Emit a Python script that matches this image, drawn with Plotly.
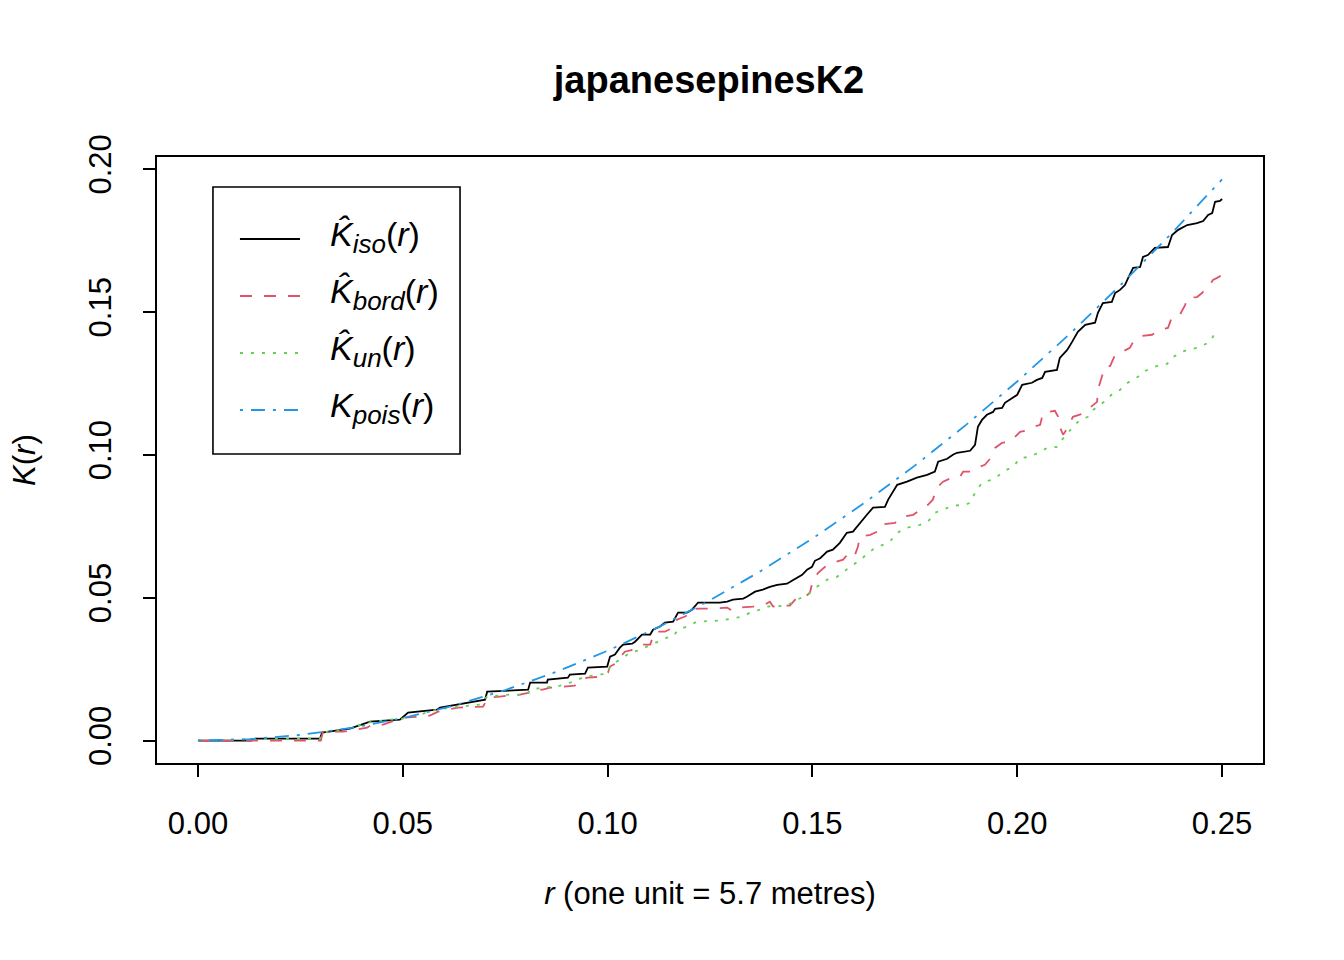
import plotly.graph_objects as go

# ---- data ----
r_iso = [0, 0.0130, 0.0140, 0.0298, 0.0303, 0.0371, 0.0420, 0.0493, 0.0513, 0.0583,
         0.0591, 0.0635, 0.0669, 0.0701, 0.0706, 0.0806, 0.0811, 0.0852, 0.0854, 0.0903,
         0.0908, 0.0945, 0.0952, 0.0999, 0.1006, 0.1018, 0.1030, 0.1038, 0.1060, 0.1067,
         0.1084, 0.1104, 0.1111, 0.1128, 0.1140, 0.1160, 0.1172, 0.1194, 0.1206, 0.1218,
         0.1221, 0.1274, 0.1292, 0.1306, 0.1331, 0.1340, 0.1360, 0.1379, 0.1396, 0.1414,
         0.1438, 0.1450, 0.1462, 0.1475, 0.1487, 0.1499, 0.1506, 0.1519, 0.1536, 0.1550,
         0.1567, 0.1584, 0.1599, 0.1616, 0.1633, 0.1648, 0.1677, 0.1685, 0.1707, 0.1731,
         0.1755, 0.1780, 0.1799, 0.1807, 0.1829, 0.1843, 0.1853, 0.1885, 0.1897, 0.1904,
         0.1914, 0.1926, 0.1941, 0.1946, 0.1963, 0.1970, 0.1990, 0.2000, 0.2012, 0.2036,
         0.2048, 0.2061, 0.2068, 0.2097, 0.2104, 0.2122, 0.2134, 0.2148, 0.2166, 0.2190,
         0.2197, 0.2209, 0.2231, 0.2239, 0.2251, 0.2263, 0.2271, 0.2283, 0.2300, 0.2307,
         0.2319, 0.2336, 0.2368, 0.2378, 0.2393, 0.2415, 0.2439, 0.2454, 0.2466, 0.2476,
         0.2483, 0.2495, 0.2500]
k_iso = [0, 0, 0.0007, 0.0007, 0.0028, 0.0042, 0.0066, 0.0073, 0.0098, 0.0108,
         0.0115, 0.0126, 0.0136, 0.0143, 0.0171, 0.0178, 0.0203, 0.0203, 0.0213, 0.0220,
         0.0231, 0.0234, 0.0255, 0.0259, 0.0294, 0.0301, 0.0325, 0.0336, 0.0339, 0.0346,
         0.0371, 0.0371, 0.0388, 0.0399, 0.0413, 0.0416, 0.0448, 0.0448, 0.0458, 0.0476,
         0.0483, 0.0483, 0.0486, 0.0493, 0.0497, 0.0503, 0.0521, 0.0528, 0.0538, 0.0545,
         0.0549, 0.0559, 0.0570, 0.0580, 0.0598, 0.0608, 0.0629, 0.0638, 0.0661, 0.0668,
         0.0692, 0.0727, 0.0731, 0.0762, 0.0790, 0.0815, 0.0818, 0.0843, 0.0895, 0.0906,
         0.0920, 0.0930, 0.0941, 0.0976, 0.0986, 0.1000, 0.1007, 0.1014, 0.1035, 0.1098,
         0.1122, 0.1140, 0.1150, 0.1161, 0.1164, 0.1182, 0.1199, 0.1210, 0.1245, 0.1252,
         0.1262, 0.1269, 0.1290, 0.1297, 0.1339, 0.1367, 0.1395, 0.1430, 0.1455, 0.1462,
         0.1497, 0.1531, 0.1535, 0.1566, 0.1577, 0.1594, 0.1619, 0.1654, 0.1657, 0.1692,
         0.1699, 0.1724, 0.1727, 0.1769, 0.1787, 0.1804, 0.1811, 0.1818, 0.1839, 0.1846,
         0.1885, 0.1888, 0.1895]

r_bord = [0, 0.0300, 0.0305, 0.0354, 0.0413, 0.0425, 0.0452, 0.0500, 0.0542, 0.0559,
          0.0571, 0.0586, 0.0608, 0.0635, 0.0696, 0.0708, 0.0737, 0.0786, 0.0811, 0.0818,
          0.0842, 0.0859, 0.0920, 0.0925, 0.0950, 0.0989, 0.1001, 0.1006, 0.1023, 0.1030,
          0.1042, 0.1062, 0.1086, 0.1104, 0.1111, 0.1116, 0.1140, 0.1165, 0.1169, 0.1189,
          0.1201, 0.1213, 0.1218, 0.1257, 0.1292, 0.1304, 0.1316, 0.1355, 0.1384, 0.1396,
          0.1404, 0.1421, 0.1445, 0.1458, 0.1477, 0.1494, 0.1501, 0.1514, 0.1531, 0.1550,
          0.1575, 0.1592, 0.1604, 0.1611, 0.1616, 0.1641, 0.1658, 0.1665, 0.1702, 0.1721,
          0.1746, 0.1770, 0.1782, 0.1794, 0.1804, 0.1819, 0.1841, 0.1860, 0.1868, 0.1885,
          0.1902, 0.1921, 0.1938, 0.1946, 0.1963, 0.1982, 0.2000, 0.2007, 0.2019, 0.2039,
          0.2056, 0.2063, 0.2092, 0.2100, 0.2104, 0.2112, 0.2122, 0.2129, 0.2136, 0.2158,
          0.2178, 0.2195, 0.2197, 0.2207, 0.2214, 0.2227, 0.2239, 0.2251, 0.2275, 0.2283,
          0.2305, 0.2329, 0.2349, 0.2368, 0.2378, 0.2397, 0.2410, 0.2415, 0.2439, 0.2451,
          0.2458, 0.2466, 0.2478, 0.2488, 0.2500]
k_bord = [0, 0, 0.0031, 0.0031, 0.0045, 0.0056, 0.0056, 0.0080, 0.0084, 0.0084,
          0.0091, 0.0101, 0.0108, 0.0115, 0.0119, 0.0150, 0.0154, 0.0161, 0.0168, 0.0178,
          0.0178, 0.0185, 0.0192, 0.0203, 0.0220, 0.0224, 0.0238, 0.0259, 0.0273, 0.0290,
          0.0311, 0.0318, 0.0336, 0.0336, 0.0364, 0.0381, 0.0381, 0.0399, 0.0423, 0.0434,
          0.0444, 0.0448, 0.0462, 0.0462, 0.0465, 0.0455, 0.0465, 0.0469, 0.0476, 0.0486,
          0.0469, 0.0472, 0.0472, 0.0493, 0.0497, 0.0517, 0.0560, 0.0587, 0.0608, 0.0622,
          0.0633, 0.0661, 0.0650, 0.0678, 0.0713, 0.0720, 0.0731, 0.0755, 0.0762, 0.0783,
          0.0790, 0.0815, 0.0825, 0.0843, 0.0885, 0.0906, 0.0920, 0.0923, 0.0941, 0.0941,
          0.0955, 0.0965, 0.0993, 0.1024, 0.1042, 0.1045, 0.1070, 0.1080, 0.1084, 0.1098,
          0.1105, 0.1147, 0.1154, 0.1133, 0.1098, 0.1070, 0.1091, 0.1112, 0.1133, 0.1143,
          0.1164, 0.1185, 0.1227, 0.1273, 0.1308, 0.1311, 0.1350, 0.1357, 0.1374, 0.1395,
          0.1416, 0.1420, 0.1437, 0.1444, 0.1483, 0.1490, 0.1524, 0.1549, 0.1552, 0.1566,
          0.1577, 0.1584, 0.1612, 0.1619, 0.1629]

r_un = [0, 0.0140, 0.0298, 0.0303, 0.0354, 0.0403, 0.0425, 0.0469, 0.0500, 0.0542,
        0.0583, 0.0615, 0.0657, 0.0688, 0.0706, 0.0762, 0.0803, 0.0811, 0.0842, 0.0884,
        0.0916, 0.0945, 0.0981, 0.0999, 0.1006, 0.1018, 0.1038, 0.1055, 0.1074, 0.1096,
        0.1121, 0.1145, 0.1160, 0.1172, 0.1194, 0.1208, 0.1218, 0.1274, 0.1306, 0.1331,
        0.1348, 0.1372, 0.1389, 0.1438, 0.1453, 0.1487, 0.1511, 0.1536, 0.1560, 0.1575,
        0.1592, 0.1611, 0.1633, 0.1653, 0.1672, 0.1689, 0.1707, 0.1731, 0.1763, 0.1782,
        0.1799, 0.1819, 0.1843, 0.1873, 0.1885, 0.1897, 0.1914, 0.1938, 0.1951, 0.1965,
        0.1990, 0.2007, 0.2031, 0.2051, 0.2073, 0.2097, 0.2109, 0.2124, 0.2136, 0.2153,
        0.2173, 0.2185, 0.2202, 0.2219, 0.2234, 0.2251, 0.2263, 0.2280, 0.2295, 0.2307,
        0.2329, 0.2349, 0.2366, 0.2378, 0.2397, 0.2415, 0.2439, 0.2458, 0.2471, 0.2483,
        0.2488]
k_un = [0, 0.0005, 0.0007, 0.0028, 0.0038, 0.0056, 0.0066, 0.0073, 0.0077, 0.0091,
        0.0108, 0.0115, 0.0122, 0.0126, 0.0154, 0.0161, 0.0161, 0.0178, 0.0185, 0.0192,
        0.0206, 0.0224, 0.0231, 0.0234, 0.0259, 0.0273, 0.0290, 0.0308, 0.0315, 0.0329,
        0.0346, 0.0360, 0.0364, 0.0388, 0.0399, 0.0409, 0.0416, 0.0420, 0.0427, 0.0434,
        0.0448, 0.0458, 0.0469, 0.0472, 0.0486, 0.0510, 0.0538, 0.0563, 0.0573, 0.0591,
        0.0608, 0.0626, 0.0650, 0.0675, 0.0685, 0.0696, 0.0727, 0.0745, 0.0755, 0.0766,
        0.0797, 0.0808, 0.0822, 0.0825, 0.0832, 0.0867, 0.0902, 0.0913, 0.0923, 0.0941,
        0.0958, 0.0988, 0.0993, 0.1007, 0.1024, 0.1028, 0.1052, 0.1077, 0.1098, 0.1122,
        0.1133, 0.1157, 0.1175, 0.1192, 0.1217, 0.1227, 0.1245, 0.1262, 0.1273, 0.1290,
        0.1304, 0.1315, 0.1318, 0.1339, 0.1357, 0.1367, 0.1374, 0.1385, 0.1395, 0.1427,
        0.1427]

r_pois = [0, 0.0125, 0.025, 0.0375, 0.05, 0.0625, 0.075, 0.0875, 0.1, 0.1125, 0.125,
          0.1375, 0.15, 0.1625, 0.175, 0.1875, 0.2, 0.2125, 0.225, 0.2375, 0.25]
k_pois = [0, 0.00049, 0.00196, 0.00442, 0.00785, 0.01227, 0.01767, 0.02405, 0.03142,
          0.03976, 0.04909, 0.05940, 0.07069, 0.08296, 0.09621, 0.11045, 0.12566,
          0.14186, 0.15904, 0.17721, 0.19635]

x_ticks = [0.00, 0.05, 0.10, 0.15, 0.20, 0.25]
x_tick_labels = ["0.00", "0.05", "0.10", "0.15", "0.20", "0.25"]
y_ticks = [0.00, 0.05, 0.10, 0.15, 0.20]
y_tick_labels = ["0.00", "0.05", "0.10", "0.15", "0.20"]

SUB = '<sub><span style="font-size:26px"><i>{}</i></span></sub>'
legend_labels = [
    "<i>K\u0302</i>" + SUB.format("iso") + "(<i>r</i>)",
    "<i>K\u0302</i>" + SUB.format("bord") + "(<i>r</i>)",
    "<i>K\u0302</i>" + SUB.format("un") + "(<i>r</i>)",
    "<i>K</i>" + SUB.format("pois") + "(<i>r</i>)",
]
colors = ["#000000", "#DF536B", "#61D04F", "#2297E6"]
dashes = ["solid", "12px,12px", "3px,8px", "3px,8px,14px,8px"]

FONT = "Liberation Sans, Arial, Helvetica, sans-serif"
LW = 1.8

fig = go.Figure()
series = [(r_iso, k_iso), (r_bord, k_bord), (r_un, k_un), (r_pois, k_pois)]
for (xs, ys), lab, col, dsh in zip(series, legend_labels, colors, dashes):
    fig.add_trace(go.Scatter(x=xs, y=ys, mode="lines", name=lab, showlegend=False,
                             line=dict(color=col, width=LW, dash=dsh)))

axis_common = dict(
    showline=True, linecolor="black", linewidth=1.6, mirror=True,
    ticks="outside", ticklen=12, tickwidth=1.6, tickcolor="black",
    showgrid=False, zeroline=False,
    tickfont=dict(family=FONT, size=31, color="black"),
)

fig.update_xaxes(range=[-0.01, 0.26], tickvals=x_ticks, ticktext=x_tick_labels,
                 ticklabelstandoff=20,
                 title=dict(text="<i>r</i> (one unit = 5.7 metres)",
                            font=dict(family=FONT, size=31, color="black"), standoff=42),
                 **axis_common)
fig.update_yaxes(range=[-0.00785, 0.2042], tickvals=y_ticks, ticktext=y_tick_labels,
                 tickangle=-90, ticklabelstandoff=20,
                 **axis_common)

# ---- legend box drawn in paper coordinates (as R's legend()) ----
shapes = [dict(type="rect", xref="paper", yref="paper", x0=0.0506, x1=0.2740,
               y0=0.5099, y1=0.9505, line=dict(color="black", width=1.6),
               fillcolor="white", layer="above")]
annotations = [dict(xref="paper", yref="paper", x=-0.1203, y=0.5, xanchor="center",
                    yanchor="middle", textangle=-90, showarrow=False, borderpad=0,
                    text="<i>K</i>(<i>r</i>)",
                    font=dict(family=FONT, size=31, color="black"))]
row_y = [0.8647, 0.7706, 0.6766, 0.5825]
for yy, lab, col, dsh in zip(row_y, legend_labels, colors, dashes):
    shapes.append(dict(type="line", xref="paper", yref="paper", x0=0.0750, x1=0.1293,
                       y0=yy, y1=yy, line=dict(color=col, width=LW, dash=dsh), layer="above"))
    annotations.append(dict(xref="paper", yref="paper", x=0.1546, y=yy + 0.004,
                            xanchor="left", yanchor="middle", showarrow=False, text=lab,
                            font=dict(family=FONT, size=34, color="black")))

fig.update_layout(
    width=1344, height=960,
    margin=dict(l=149, r=89, t=149, b=205, autoexpand=False),
    paper_bgcolor="white", plot_bgcolor="white",
    font=dict(family=FONT, color="black"),
    title=dict(text="<b>japanesepinesK2</b>", x=0.5216, xref="container", xanchor="center",
               y=1 - 72 / 960, yref="container", yanchor="middle",
               font=dict(family=FONT, size=38, color="black")),
    shapes=shapes, annotations=annotations,
    showlegend=False,
)

fig.write_html("out.html")
